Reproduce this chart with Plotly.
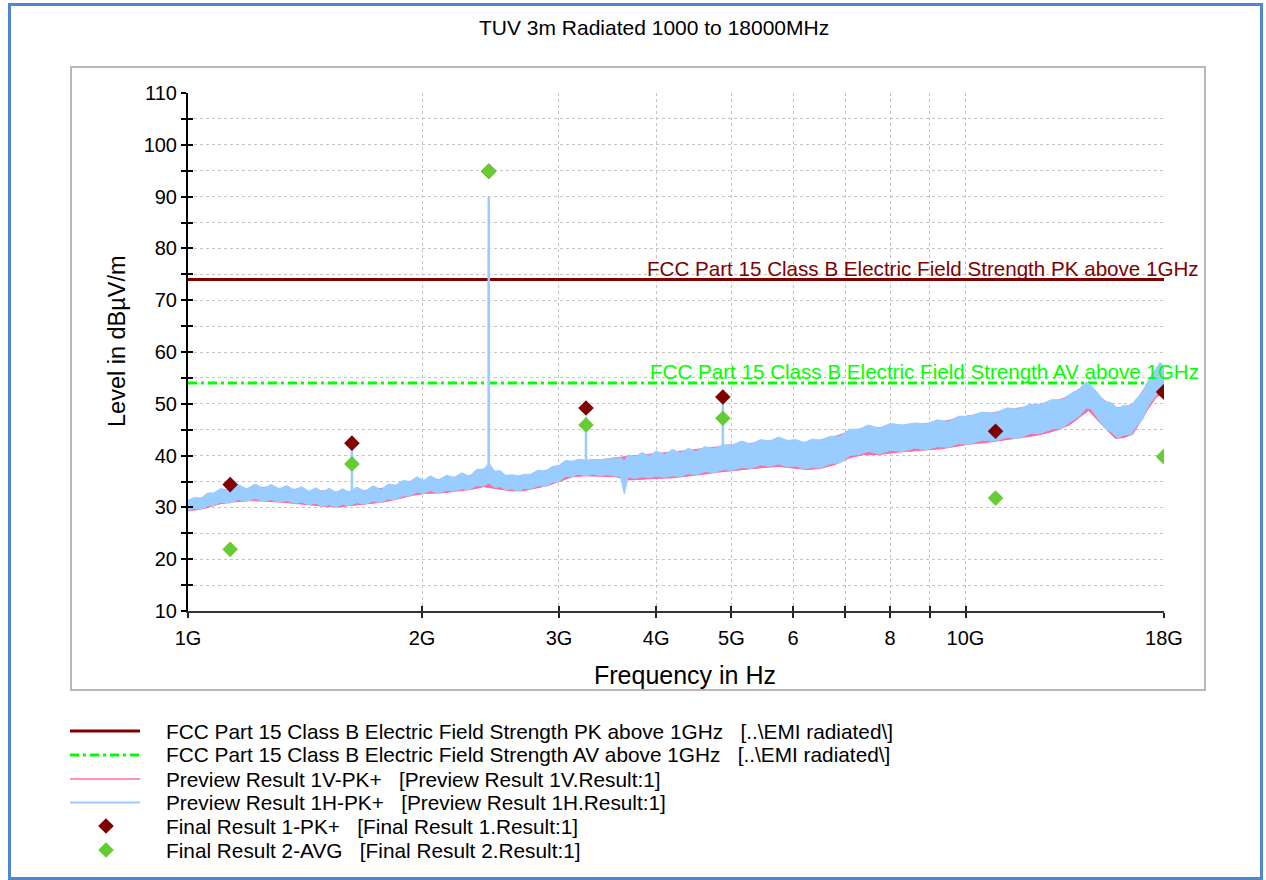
import plotly.graph_objects as go

# ---- data (frequencies in GHz, levels in dBuV/m) ----
LIMIT_F = [1.0, 18.0]
PK_LIMIT = [74.0, 74.0]
AV_LIMIT = [54.0, 54.0]

# Preview 1H-PK+ envelope (upper / lower edge of the sweep band)
H_F = [1.00, 1.02, 1.04, 1.06, 1.08, 1.10, 1.13, 1.16, 1.19, 1.22, 1.25, 1.28, 1.31, 1.34,
       1.37, 1.40, 1.43, 1.46, 1.49, 1.52, 1.55, 1.58, 1.61, 1.65, 1.69, 1.73, 1.77, 1.81,
       1.85, 1.89, 1.93, 1.97, 2.01, 2.05, 2.10, 2.15, 2.20, 2.25, 2.30, 2.35, 2.40, 2.44,
       2.48, 2.52, 2.56, 2.61, 2.66, 2.71, 2.76, 2.82, 2.88, 2.94, 3.00, 3.06, 3.12, 3.18,
       3.25, 3.32, 3.39, 3.46, 3.53, 3.60, 3.64, 3.68, 3.76, 3.84, 3.92, 4.00, 4.10, 4.20,
       4.30, 4.40, 4.50, 4.62, 4.75, 4.88, 5.00, 5.15, 5.30, 5.45, 5.60, 5.75, 5.90, 6.05,
       6.20, 6.35, 6.50, 6.70, 6.90, 7.10, 7.30, 7.50, 7.75, 8.00, 8.30, 8.60, 8.90, 9.20,
       9.50, 9.80, 10.1, 10.5, 10.9, 11.3, 11.7, 12.1, 12.5, 12.9, 13.3, 13.7, 14.0, 14.3,
       14.5, 14.8, 15.1, 15.4, 15.7, 16.0, 16.3, 16.6, 16.9, 17.2, 17.5, 17.8, 18.0]
H_HI = [31.4, 31.9, 31.8, 32.8, 32.8, 33.6, 33.4, 34.4, 33.6, 34.5, 33.7, 34.4, 33.6, 34.2,
        33.4, 34.0, 33.1, 33.8, 33.0, 33.7, 32.9, 33.6, 33.0, 33.9, 33.1, 34.2, 33.4, 34.5,
        34.3, 35.2, 35.0, 35.9, 35.2, 36.1, 35.3, 36.2, 35.8, 36.7, 36.0, 37.3, 37.4, 38.5,
        37.0, 37.1, 36.2, 36.3, 36.1, 36.4, 36.4, 37.2, 37.0, 37.9, 38.1, 39.1, 38.9, 39.3,
        39.1, 39.3, 39.2, 39.4, 39.4, 39.7, 39.0, 40.1, 39.8, 40.6, 39.9, 40.9, 40.2, 41.2,
        40.5, 41.4, 40.8, 41.7, 41.4, 42.1, 42.0, 42.8, 42.2, 43.1, 42.8, 43.6, 42.9, 43.1,
        42.5, 43.2, 43.0, 43.7, 43.8, 45.1, 45.1, 45.9, 45.3, 46.2, 45.9, 46.3, 46.1, 46.9,
        46.6, 47.6, 47.6, 48.4, 48.2, 49.2, 49.0, 49.9, 49.9, 50.8, 50.8, 52.1, 52.8, 54.2,
        53.6, 52.0, 50.5, 50.2, 49.1, 49.7, 49.6, 51.0, 52.3, 54.7, 56.3, 58.0, 57.2]
H_LO = [29.4, 29.8, 29.6, 30.3, 30.3, 31.0, 30.8, 31.5, 31.2, 31.7, 31.2, 31.5, 31.0, 31.3,
        30.8, 31.0, 30.5, 30.8, 30.2, 30.5, 30.0, 30.6, 30.3, 30.9, 30.6, 31.2, 30.9, 31.6,
        31.5, 32.2, 32.2, 32.9, 32.7, 33.2, 32.7, 33.3, 33.1, 33.6, 33.4, 34.2, 34.1, 34.7,
        33.8, 34.0, 33.4, 33.6, 33.1, 33.7, 33.5, 34.2, 34.0, 34.8, 35.0, 36.0, 35.9, 36.4,
        36.1, 36.4, 36.1, 36.3, 36.1, 35.9, 32.6, 35.8, 35.6, 35.9, 35.7, 36.0, 35.8, 36.1,
        35.9, 36.5, 36.3, 36.9, 36.7, 37.3, 37.1, 37.7, 37.5, 38.2, 37.9, 38.4, 37.8, 38.0,
        37.4, 37.7, 37.6, 38.4, 38.6, 40.0, 40.2, 40.8, 40.3, 41.0, 40.8, 41.4, 41.1, 41.7,
        41.6, 42.3, 42.2, 42.9, 42.8, 43.5, 43.3, 44.2, 44.3, 45.1, 45.3, 46.7, 47.6, 49.2,
        49.0, 47.2, 45.3, 44.5, 43.4, 44.0, 44.0, 45.7, 47.0, 49.7, 51.3, 52.7, 52.3]

# Preview 1V-PK+ envelope
V_F = [1.00, 1.05, 1.10, 1.15, 1.20, 1.26, 1.32, 1.38, 1.44, 1.50, 1.56, 1.62, 1.70, 1.78,
       1.86, 1.94, 2.02, 2.12, 2.22, 2.32, 2.40, 2.50, 2.60, 2.70, 2.80, 2.90, 3.00, 3.12,
       3.25, 3.40, 3.55, 3.70, 3.85, 4.00, 4.20, 4.40, 4.60, 4.80, 5.00, 5.25, 5.50, 5.75,
       6.00, 6.25, 6.50, 6.80, 7.10, 7.40, 7.75, 8.10, 8.50, 8.90, 9.30, 9.70, 10.1, 10.6,
       11.1, 11.6, 12.1, 12.6, 13.1, 13.6, 14.1, 14.4, 14.8, 15.2, 15.6, 16.0, 16.4, 16.8,
       17.2, 17.6, 18.0]
V_HI = [31.0, 32.0, 33.2, 33.8, 33.5, 33.9, 33.4, 33.5, 33.0, 33.2, 32.9, 33.1, 33.3, 33.7,
        34.3, 35.1, 35.3, 35.4, 35.9, 36.1, 37.2, 36.4, 35.9, 36.0, 36.6, 37.2, 38.0, 38.9,
        39.0, 39.2, 39.6, 39.9, 40.2, 40.4, 40.7, 41.0, 41.3, 41.7, 42.1, 42.3, 42.7, 43.1,
        42.8, 42.5, 43.0, 43.7, 44.7, 45.3, 45.4, 45.8, 45.9, 46.2, 46.5, 47.1, 47.7, 48.0,
        48.6, 49.1, 49.5, 50.0, 50.6, 51.5, 53.2, 53.9, 51.7, 50.3, 49.2, 49.4, 49.9, 51.9,
        54.4, 56.6, 57.2]
V_LO = [29.3, 29.8, 30.7, 31.1, 31.3, 31.2, 31.0, 30.7, 30.5, 30.2, 30.1, 30.4, 30.7, 31.0,
        31.6, 32.3, 32.7, 32.8, 33.2, 33.5, 34.0, 33.6, 33.2, 33.2, 33.7, 34.2, 35.0, 35.9,
        36.1, 36.0, 35.9, 35.3, 35.5, 35.6, 35.7, 36.0, 36.4, 36.8, 37.1, 37.4, 37.7, 37.9,
        37.6, 37.3, 37.5, 38.3, 39.6, 40.2, 40.2, 40.6, 40.9, 41.1, 41.3, 41.8, 42.2, 42.5,
        42.9, 43.3, 43.7, 44.2, 44.9, 45.9, 47.7, 48.7, 46.7, 44.9, 43.3, 43.5, 44.1, 46.6,
        49.2, 51.3, 52.1]

# narrow emissions rising out of the sweep (frequency, band level, peak level)
H_SPIKE_F = [1.625, 2.437, 3.250, 4.874]
H_SPIKE_BASE = [33.0, 36.0, 38.5, 41.0]
H_SPIKE_TOP = [42.0, 90.0, 47.5, 50.5]
V_SPIKE_F = [2.437]
V_SPIKE_BASE = [35.0]
V_SPIKE_TOP = [80.0]

# final measurements
FINAL_F = [1.133, 1.625, 2.437, 3.250, 4.874, 10.93, 17.98]
FINAL_PK = [34.4, 42.4, 94.9, 49.2, 51.3, 44.7, 52.3]
FINAL_AV = [21.9, 38.4, 94.9, 45.9, 47.2, 31.8, 39.8]

X_TICKS = [1, 2, 3, 4, 5, 6, 7, 8, 9, 10, 18]
X_TICK_TEXT = ["1G", "2G", "3G", "4G", "5G", "6", "", "8", "", "10G", "18G"]
Y_TICKS = list(range(10, 111, 5))
Y_TICK_TEXT = [str(v) if v % 10 == 0 else "" for v in Y_TICKS]

LEGEND_TEXT = [
    "FCC Part 15 Class B Electric Field Strength PK above 1GHz\u00a0\u00a0\u00a0[..\\EMI radiated\\]",
    "FCC Part 15 Class B Electric Field Strength AV above 1GHz\u00a0\u00a0\u00a0[..\\EMI radiated\\]",
    "Preview Result 1V-PK+\u00a0\u00a0\u00a0[Preview Result 1V.Result:1]",
    "Preview Result 1H-PK+\u00a0\u00a0\u00a0[Preview Result 1H.Result:1]",
    "Final Result 1-PK+\u00a0\u00a0\u00a0[Final Result 1.Result:1]",
    "Final Result 2-AVG\u00a0\u00a0\u00a0[Final Result 2.Result:1]",
]

# ---- styling ----
FONT = "Liberation Sans, Arial, sans-serif"
C_PK = "#800000"
C_AVLINE = "#00ff00"
C_V = "#ff6b9a"
C_H = "#99ccff"
C_AVMK = "#66cc33"

W, H = 1266, 880
ML, MR, MT, MB = 188, 102, 93, 269
PW, PH = W - ML - MR, H - MT - MB


def px(x):
    return (x - ML) / PW


def py(y):
    return (H - MB - y) / PH


def spike_xy(fs, lo, hi):
    xs, ys = [], []
    for f, a, b in zip(fs, lo, hi):
        xs += [f, f, None]
        ys += [a, b, None]
    return xs, ys


fig = go.Figure()

fig.add_trace(go.Scatter(x=LIMIT_F, y=PK_LIMIT, mode="lines",
                         line=dict(color=C_PK, width=3), hoverinfo="skip"))
fig.add_trace(go.Scatter(x=LIMIT_F, y=AV_LIMIT, mode="lines",
                         line=dict(color=C_AVLINE, width=3, dash="9px,4px,3px,4px"),
                         hoverinfo="skip"))

fig.add_trace(go.Scatter(x=V_F + V_F[::-1], y=V_HI + V_LO[::-1], mode="lines",
                         fill="toself", fillcolor=C_V, line=dict(color=C_V, width=1),
                         hoverinfo="skip"))
sx, sy = spike_xy(V_SPIKE_F, V_SPIKE_BASE, V_SPIKE_TOP)
fig.add_trace(go.Scatter(x=sx, y=sy, mode="lines", line=dict(color=C_V, width=2),
                         hoverinfo="skip"))

fig.add_trace(go.Scatter(x=H_F + H_F[::-1], y=H_HI + H_LO[::-1], mode="lines",
                         fill="toself", fillcolor=C_H, line=dict(color=C_H, width=1),
                         hoverinfo="skip"))
sx, sy = spike_xy(H_SPIKE_F, H_SPIKE_BASE, H_SPIKE_TOP)
fig.add_trace(go.Scatter(x=sx, y=sy, mode="lines", line=dict(color=C_H, width=2.5),
                         hoverinfo="skip"))

fig.add_trace(go.Scatter(x=FINAL_F, y=FINAL_PK, mode="markers", xaxis="x2", yaxis="y2",
                         marker=dict(symbol="diamond", size=12, color=C_PK, line_width=0)))
fig.add_trace(go.Scatter(x=FINAL_F, y=FINAL_AV, mode="markers", xaxis="x2", yaxis="y2",
                         marker=dict(symbol="diamond", size=12, color=C_AVMK, line_width=0)))

grid = dict(showgrid=True, gridcolor="#c4c4c4", gridwidth=1, griddash="dot", zeroline=False)
fig.update_layout(
    width=W, height=H,
    margin=dict(l=ML, r=MR, t=MT, b=MB),
    paper_bgcolor="white", plot_bgcolor="white",
    showlegend=False,
    font=dict(family=FONT, color="black"),
    xaxis=dict(type="log", range=[0, 1.2552725], tickvals=X_TICKS, ticktext=X_TICK_TEXT,
               ticks="outside", ticklen=5, tickwidth=1.5, tickcolor="#222",
               showline=True, linecolor="#333", linewidth=2,
               tickfont=dict(size=20), ticklabelstandoff=3, **grid),
    yaxis=dict(range=[10, 110], tickvals=Y_TICKS, ticktext=Y_TICK_TEXT,
               ticks="outside", ticklen=5, tickwidth=1.5, tickcolor="black",
               showline=True, linecolor="black", linewidth=2,
               tickfont=dict(size=20), **grid),
    xaxis2=dict(type="log", range=[0, 1.2552725], overlaying="x", anchor="y2", side="bottom",
                tickvals=X_TICKS, ticks="inside", ticklen=5, tickwidth=1.5, tickcolor="#222",
                showticklabels=False, showgrid=False, showline=False, zeroline=False),
    yaxis2=dict(range=[10, 110], overlaying="y", anchor="x2", side="left",
                tickvals=Y_TICKS, ticks="inside", ticklen=5, tickwidth=1.5, tickcolor="black",
                showticklabels=False, showgrid=False, showline=False, zeroline=False),
)

# frames: outer blue border and grey chart frame
fig.add_shape(type="rect", xref="paper", yref="paper", x0=px(9.5), x1=px(1261.5),
              y0=py(878.5), y1=py(4.5), line=dict(color="#4f86d2", width=3), layer="below")
fig.add_shape(type="rect", xref="paper", yref="paper", x0=px(71), x1=px(1205),
              y0=py(690), y1=py(67), line=dict(color="#b8b8b8", width=2), layer="below")

# titles
fig.add_annotation(text="TUV 3m Radiated 1000 to 18000MHz", xref="paper", yref="paper",
                   x=px(654), y=py(27), xanchor="center", yanchor="middle",
                   showarrow=False, font=dict(size=21))
fig.add_annotation(text="Frequency in Hz", xref="paper", yref="paper",
                   x=px(685), y=py(675), xanchor="center", yanchor="middle",
                   showarrow=False, font=dict(size=25))
fig.add_annotation(text="Level in dB\u00b5V/m", xref="paper", yref="paper", textangle=-90,
                   x=px(117), y=py(341), xanchor="center", yanchor="middle",
                   showarrow=False, font=dict(size=23.5))

# limit labels
fig.add_annotation(text="FCC Part 15 Class B Electric Field Strength PK above 1GHz",
                   xref="paper", y=PK_LIMIT[0], x=px(1201), xanchor="right", yanchor="bottom",
                   yshift=-3, showarrow=False, font=dict(size=20.6, color=C_PK))
fig.add_annotation(text="FCC Part 15 Class B Electric Field Strength AV above 1GHz",
                   xref="paper", y=AV_LIMIT[0], x=px(1201), xanchor="right", yanchor="bottom",
                   yshift=-2, showarrow=False, font=dict(size=20.6, color=C_AVLINE))

# legend block
rows = [731, 755, 779, 802.5, 826, 850]
fig.add_shape(type="line", xref="paper", yref="paper", x0=px(70), x1=px(140),
              y0=py(rows[0]), y1=py(rows[0]), line=dict(color=C_PK, width=3))
fig.add_shape(type="line", xref="paper", yref="paper", x0=px(70), x1=px(140),
              y0=py(rows[1]), y1=py(rows[1]),
              line=dict(color=C_AVLINE, width=3, dash="9px,4px,3px,4px"))
fig.add_shape(type="line", xref="paper", yref="paper", x0=px(70), x1=px(140),
              y0=py(rows[2]), y1=py(rows[2]), line=dict(color=C_V, width=1.5))
fig.add_shape(type="line", xref="paper", yref="paper", x0=px(70), x1=px(140),
              y0=py(rows[3]), y1=py(rows[3]), line=dict(color=C_H, width=2))
for r, c in ((rows[4], C_PK), (rows[5], C_AVMK)):
    cx, d = 106, 7.8
    path = (f"M {px(cx - d)},{py(r)} L {px(cx)},{py(r - d)} "
            f"L {px(cx + d)},{py(r)} L {px(cx)},{py(r + d)} Z")
    fig.add_shape(type="path", xref="paper", yref="paper", path=path,
                  fillcolor=c, line=dict(width=0))
for r, t in zip(rows, LEGEND_TEXT):
    fig.add_annotation(text=t, xref="paper", yref="paper", x=px(164), y=py(r),
                       xanchor="left", yanchor="middle", showarrow=False,
                       font=dict(size=20.8, color="black"))

fig.write_html("out.html")
